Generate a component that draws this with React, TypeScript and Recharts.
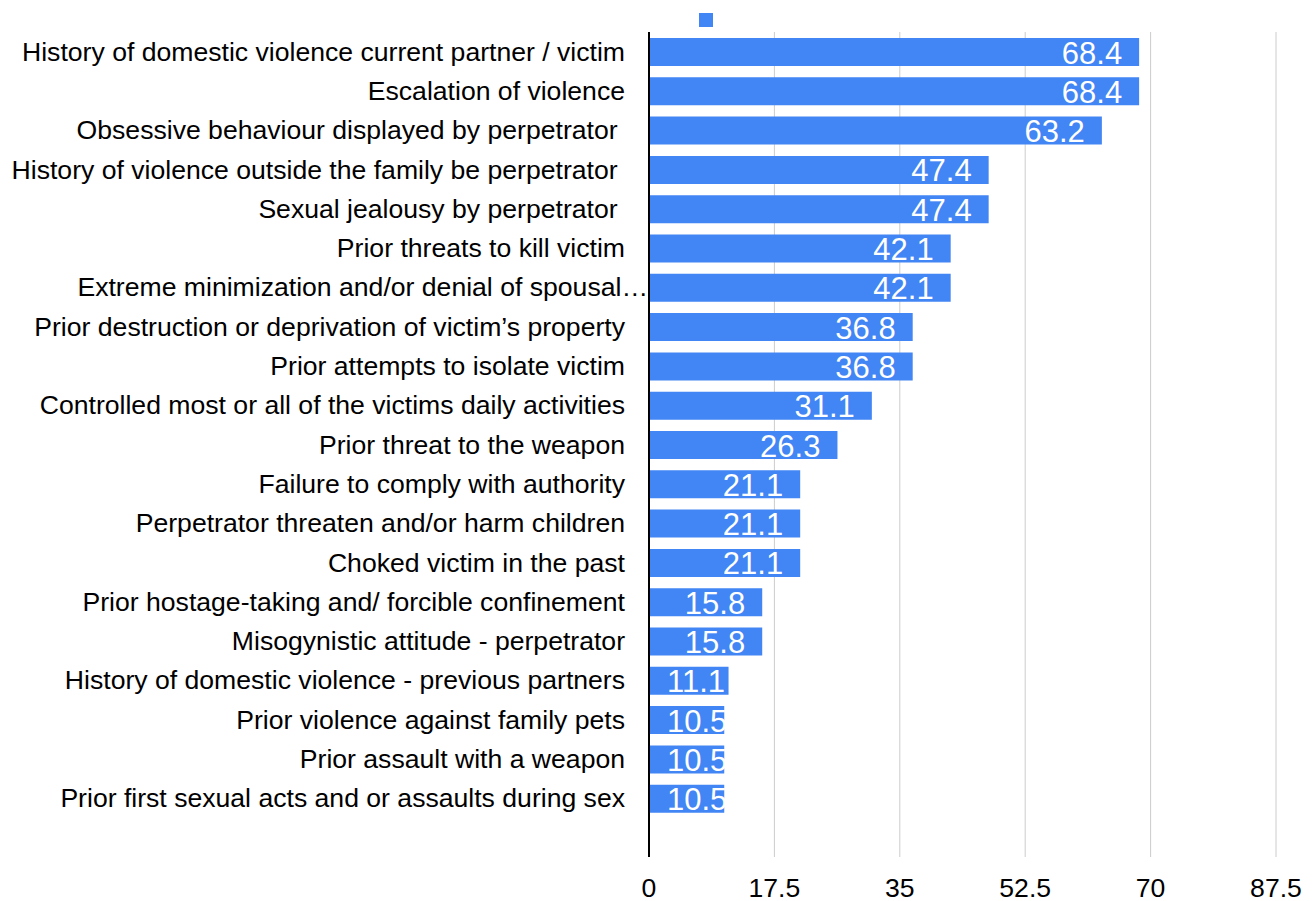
import { BarChart, Bar, XAxis, YAxis, CartesianGrid, LabelList } from "recharts";

const factors = [
  "History of domestic violence current partner / victim",
  "Escalation of violence",
  "Obsessive behaviour displayed by perpetrator ",
  "History of violence outside the family be perpetrator ",
  "Sexual jealousy by perpetrator ",
  "Prior threats to kill victim",
  "Extreme minimization and/or denial of spousal…",
  "Prior destruction or deprivation of victim’s property",
  "Prior attempts to isolate victim",
  "Controlled most or all of the victims daily activities",
  "Prior threat to the weapon",
  "Failure to comply with authority",
  "Perpetrator threaten and/or harm children",
  "Choked victim in the past",
  "Prior hostage-taking and/ forcible confinement",
  "Misogynistic attitude - perpetrator",
  "History of domestic violence - previous partners",
  "Prior violence against family pets",
  "Prior assault with a weapon",
  "Prior first sexual acts and or assaults during sex",
];

const percents = [
  68.4, 68.4, 63.2, 47.4, 47.4, 42.1, 42.1, 36.8, 36.8, 31.1, 26.3, 21.1, 21.1,
  21.1, 15.8, 15.8, 11.1, 10.5, 10.5, 10.5,
];

const xTicks = [0, 17.5, 35, 52.5, 70, 87.5];

const data = factors.map((name, i) => ({ name, value: percents[i] }));

const FONT = "'Liberation Sans', Arial, sans-serif";
const BLUE = "#4285f4";
const LABEL_SIZE = 31;
const AXIS_SIZE = 26.6;

const FactorTick = (props: any) => {
  const { x, y, payload } = props;
  const text: string = payload.value;
  // the truncated label runs up to the axis line
  const dx = text.endsWith("…") ? 23 : 0;
  return (
    <text
      x={x + dx}
      y={y}
      textAnchor="end"
      dominantBaseline="central"
      fill="#000"
      fontSize={AXIS_SIZE}
      fontFamily={FONT}
      style={{ whiteSpace: "pre" }}
    >
      {text}
    </text>
  );
};

const ValueLabel = (props: any) => {
  const { x, y, width, height, value } = props;
  const textW = 1.946 * LABEL_SIZE;
  let tx = x + width - 17;
  let anchor: "end" | "start" = "end";
  if (tx - textW < x + 18) {
    tx = x + 18;
    anchor = "start";
  }
  return (
    <text
      x={tx}
      y={y + height / 2 + 1}
      textAnchor={anchor}
      dominantBaseline="central"
      fill="#fff"
      fontSize={LABEL_SIZE}
      fontFamily={FONT}
    >
      {value}
    </text>
  );
};

export default function App() {
  return (
    <div style={{ position: "absolute", left: 0, top: 0, width: 1315, height: 901 }}>
      <div
        style={{
          position: "absolute",
          left: 699,
          top: 13,
          width: 14,
          height: 14,
          background: BLUE,
        }}
      />
      <BarChart
        width={1315}
        height={901}
        data={data}
        layout="vertical"
        margin={{ top: 32, right: 39, bottom: 0, left: 0 }}
      >
        <CartesianGrid horizontal={false} stroke="#cccccc" />
        <XAxis
          type="number"
          domain={[0, 87.5]}
          ticks={xTicks}
          axisLine={false}
          tickLine={false}
          tickSize={0}
          tickMargin={21}
          height={44}
          tick={{ fill: "#000", fontSize: AXIS_SIZE, fontFamily: FONT }}
          interval={0}
        />
        <YAxis
          type="category"
          dataKey="name"
          width={649}
          axisLine={{ stroke: "#000", strokeWidth: 2 }}
          tickLine={false}
          tickSize={0}
          tickMargin={24}
          padding={{ top: 0, bottom: 39 }}
          tick={<FactorTick />}
          interval={0}
        />
        <Bar dataKey="value" fill={BLUE} barSize={28} isAnimationActive={false}>
          <LabelList dataKey="value" content={<ValueLabel />} />
        </Bar>
      </BarChart>
    </div>
  );
}
